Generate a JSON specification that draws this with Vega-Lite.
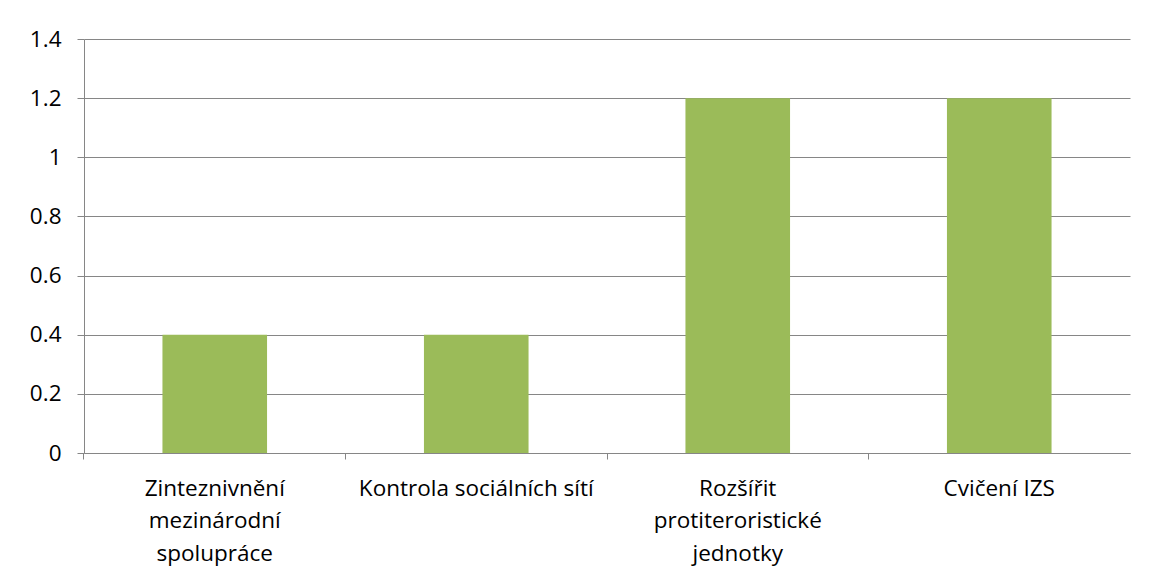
{
  "$schema": "https://vega.github.io/schema/vega-lite/v6.json",
  "autosize": "none",
  "width": 1046,
  "height": 414,
  "padding": {"left": 84, "top": 39, "right": 23, "bottom": 126},
  "background": "white",
  "config": {
    "view": {"stroke": null},
    "font": "Open Sans",
    "axis": {"labelFont": "Open Sans", "labelColor": "#000000", "labelFontSize": 22.5, "domainColor": "#868686", "tickColor": "#868686", "gridColor": "#868686", "title": null}
  },
  "data": {
    "values": [
      {"kategorie": "Zinteznivnění|mezinárodní|spolupráce", "hodnota": 0.4},
      {"kategorie": "Kontrola sociálních sítí", "hodnota": 0.4},
      {"kategorie": "Rozšířit|protiteroristické|jednotky", "hodnota": 1.2},
      {"kategorie": "Cvičení IZS", "hodnota": 1.2}
    ]
  },
  "layer": [
    {
      "mark": {"type": "bar", "opacity": 0},
      "encoding": {
        "x": {"field": "kategorie", "type": "nominal", "sort": null,
              "scale": {"paddingInner": 0.6, "paddingOuter": 0.3},
              "axis": {"orient": "bottom", "labels": false, "ticks": true, "tickSize": 6, "bandPosition": -0.75, "domain": true, "grid": false, "title": null}},
        "y": {"field": "hodnota", "type": "quantitative",
              "scale": {"domain": [0, 1.4]},
              "axis": {"values": [0, 0.2, 0.4, 0.6, 0.8, 1, 1.2, 1.4], "tickSize": 7, "labelPadding": 16, "grid": true, "domain": true, "labelExpr": "datum.value == 1 ? '1' : datum.value == 0 ? '0' : format(datum.value, '.1f')"}}
      }
    },
    {
      "mark": {"type": "bar", "color": "#9BBB59"},
      "encoding": {
        "x": {"field": "kategorie", "type": "nominal", "sort": null,
              "axis": {"orient": "bottom", "labels": true, "ticks": false, "domain": false, "grid": false, "labelAngle": 0, "labelPadding": 24, "labelLineHeight": 32.5, "labelBaseline": "top", "labelExpr": "split(datum.label, '|')", "labelLimit": 0}},
        "y": {"field": "hodnota", "type": "quantitative"}
      }
    }
  ],
  "resolve": {"axis": {"x": "independent"}}
}
